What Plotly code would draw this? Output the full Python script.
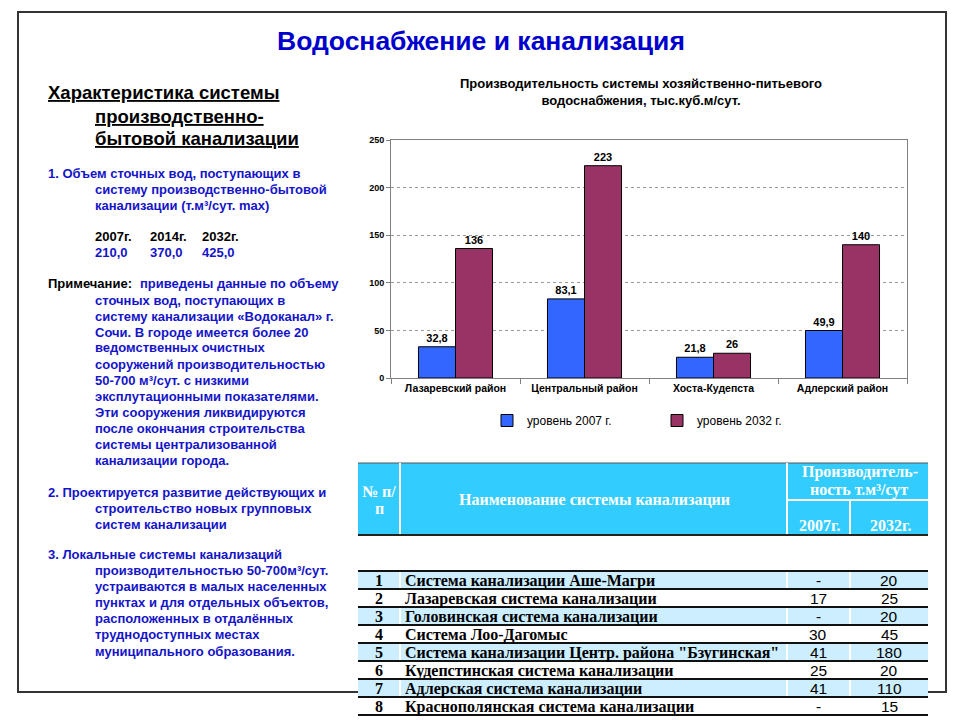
import plotly.graph_objects as go

# page body has an 8px margin; the figure is sized so the 960x720 window shows it whole
OFF = 8
W, H = 960 - OFF, 720 - OFF

# ---------------- data ----------------
categories = ["Лазаревский район", "Центральный район", "Хоста-Кудепста", "Адлерский район"]
level_2007 = [32.8, 83.1, 21.8, 49.9]
level_2032 = [136, 223, 26, 140]
series_names = ["уровень 2007 г.", "уровень 2032 г."]
y_ticks = [0, 50, 100, 150, 200, 250]

left_years = ["2007г.", "2014г.", "2032г."]
left_volumes = ["210,0", "370,0", "425,0"]

table_nums = ["1", "2", "3", "4", "5", "6", "7", "8"]
table_names = [
    "Система канализации Аше-Магри",
    "Лазаревская система канализации",
    "Головинская система канализации",
    "Система Лоо-Дагомыс",
    "Система канализации Центр. района \"Бзугинская\"",
    "Кудепстинская система канализации",
    "Адлерская система канализации",
    "Краснополянская система канализации",
]
table_2007 = ["-", "17", "-", "30", "41", "25", "41", "-"]
table_2032 = ["20", "25", "20", "45", "180", "20", "110", "15"]

# ---------------- helpers ----------------
def px(x):
    return (x - OFF) / W

def py(y):
    return 1 - (y - OFF) / H

SANS = "Arial, Liberation Sans, sans-serif"
SERIF = "Times New Roman, Liberation Serif, serif"
BLUE_TXT = "#1414c8"

fig = go.Figure()

for vals, name, color in [(level_2007, series_names[0], "#3366ff"),
                          (level_2032, series_names[1], "#993366")]:
    fig.add_trace(go.Bar(
        x=categories, y=vals, name=name,
        marker=dict(color=color, line=dict(color="#000000", width=1)),
        texttemplate="%{y}", textposition="outside",
        textfont=dict(family=SANS, size=11, color="#000000", weight="bold"),
        cliponaxis=False,
    ))

shapes = []
annotations = []

# slide frame
shapes.append(dict(type="rect", xref="paper", yref="paper",
                   x0=px(18), x1=px(946), y0=py(692), y1=py(12),
                   line=dict(color="#333333", width=2), fillcolor="rgba(0,0,0,0)"))

# main title
annotations.append(dict(text="<b>Водоснабжение и канализация</b>", x=px(481), y=py(41),
                        xref="paper", yref="paper", showarrow=False, xanchor="center", yanchor="middle",
                        font=dict(family=SANS, size=26.5, color="#0000cc")))

def left_line(text, x, y, size=13, color=BLUE_TXT):
    annotations.append(dict(text=text, x=px(x - 2), y=py(y), xref="paper", yref="paper",
                            showarrow=False, xanchor="left", yanchor="middle",
                            font=dict(family=SANS, size=size, color=color)))

left_line("<b><u>Характеристика системы</u></b>", 48, 93, 18.5, "#000000")
left_line("<b><u>производственно-</u></b>", 95, 116, 18.5, "#000000")
left_line("<b><u>бытовой канализации</u></b>", 95, 138, 18.5, "#000000")

left_line("<b>1. Объем сточных вод, поступающих в</b>", 48, 173)
left_line("<b>систему производственно-бытовой</b>", 95, 189)
left_line("<b>канализации (т.м³/сут. max)</b>", 95, 205)
for i, (yr, vol) in enumerate(zip(left_years, left_volumes)):
    xx = [95, 150, 202][i]
    left_line(f"<b>{yr}</b>", xx, 236, 13, "#000000")
    left_line(f"<b>{vol}</b>", xx, 252)

left_line("<b>Примечание:</b>", 48, 284, 13, "#000000")
left_line("<b>приведены данные по объему</b>", 140, 284)
note_lines = [
    "сточных вод, поступающих в",
    "систему канализации «Водоканал» г.",
    "Сочи. В городе имеется более 20",
    "ведомственных очистных",
    "сооружений производительностью",
    "50-700 м³/сут. с низкими",
    "эксплутационными показателями.",
    "Эти сооружения ликвидируются",
    "после окончания строительства",
    "системы централизованной",
    "канализации города.",
]
for i, t in enumerate(note_lines):
    left_line(f"<b>{t}</b>", 95, 300 + 16 * i)

left_line("<b>2. Проектируется развитие действующих и</b>", 48, 492)
left_line("<b>строительство новых групповых</b>", 95, 508)
left_line("<b>систем канализации</b>", 95, 524)

left_line("<b>3. Локальные системы канализаций</b>", 48, 554)
p3 = [
    "производительностью 50-700м³/сут.",
    "устраиваются в малых населенных",
    "пунктах и для отдельных объектов,",
    "расположенных в отдалённых",
    "труднодоступных местах",
    "муниципального образования.",
]
for i, t in enumerate(p3):
    left_line(f"<b>{t}</b>", 95, 570 + 16.2 * i)

# ---------------- table ----------------
CYAN = "#33ccff"
LIGHT = "#cceeff"
TX0, TX1 = 358, 928
col_edges = [358, 400, 787, 850, 928]
HY0, HY1, HMID = 463, 535, 500

shapes.append(dict(type="rect", xref="paper", yref="paper",
                   x0=px(TX0), x1=px(TX1), y0=py(HY1), y1=py(HY0),
                   line=dict(width=0), fillcolor=CYAN))
shapes.append(dict(type="line", xref="paper", yref="paper", x0=px(TX0), x1=px(TX1),
                   y0=py(HY0), y1=py(HY0), line=dict(color="#555555", width=1)))
for xe in [400, 787]:
    shapes.append(dict(type="line", xref="paper", yref="paper", x0=px(xe), x1=px(xe),
                       y0=py(HY0), y1=py(HY1), line=dict(color="#ffffff", width=2)))
shapes.append(dict(type="line", xref="paper", yref="paper", x0=px(787), x1=px(TX1),
                   y0=py(HMID), y1=py(HMID), line=dict(color="#ffffff", width=2)))
shapes.append(dict(type="line", xref="paper", yref="paper", x0=px(850), x1=px(850),
                   y0=py(HMID), y1=py(HY1), line=dict(color="#ffffff", width=2)))
shapes.append(dict(type="line", xref="paper", yref="paper", x0=px(TX0), x1=px(TX1),
                   y0=py(HY1), y1=py(HY1), line=dict(color="#222222", width=2)))

def cell_text(text, x, y, size, color, family, anchor="center"):
    annotations.append(dict(text=text, x=px(x), y=py(y), xref="paper", yref="paper",
                            showarrow=False, xanchor=anchor, yanchor="middle",
                            font=dict(family=family, size=size, color=color)))

cell_text("<b>№ п/</b>", 379, 491, 16, "#ffffff", SERIF)
cell_text("<b>п</b>", 379, 508, 16, "#ffffff", SERIF)
cell_text("<b>Наименование системы канализации</b>", 594, 499, 16, "#ffffff", SERIF)
cell_text("<b>Производитель-</b>", 860, 472, 16, "#ffffff", SERIF)
cell_text("<b>ность т.м³/сут</b>", 859, 490, 16, "#ffffff", SERIF)
cell_text("<b>2007г.</b>", 819, 525, 16, "#ffffff", SERIF)
cell_text("<b>2032г.</b>", 890, 525, 16, "#ffffff", SERIF)

RY0, RH = 571, 18
n_rows = len(table_nums)
for i in range(n_rows):
    y0 = RY0 + RH * i
    shapes.append(dict(type="rect", xref="paper", yref="paper",
                       x0=px(TX0), x1=px(TX1), y0=py(y0 + RH), y1=py(y0),
                       line=dict(width=0), fillcolor=LIGHT if i % 2 == 0 else "#ffffff"))
for xe in col_edges[1:-1]:
    shapes.append(dict(type="line", xref="paper", yref="paper", x0=px(xe), x1=px(xe),
                       y0=py(RY0), y1=py(RY0 + RH * n_rows), line=dict(color="#ffffff", width=2)))
for i in range(n_rows + 1):
    yy = RY0 + RH * i
    shapes.append(dict(type="line", xref="paper", yref="paper", x0=px(TX0), x1=px(TX1),
                       y0=py(yy), y1=py(yy), line=dict(color="#111111", width=2)))

for i in range(n_rows):
    yc = RY0 + RH * i + RH / 2 + 0.5
    cell_text(f"<b>{table_nums[i]}</b>", 379, yc, 16, "#000000", SERIF)
    cell_text(f"<b>{table_names[i]}</b>", 403, yc, 16, "#000000", SERIF, anchor="left")
    cell_text(table_2007[i], 818, yc, 15.5, "#000000", SANS)
    cell_text(table_2032[i], 889, yc, 15.5, "#000000", SANS)

fig.update_layout(
    width=W, height=H,
    margin=dict(l=0, r=0, t=0, b=0, autoexpand=False),
    paper_bgcolor="#ffffff", plot_bgcolor="#ffffff",
    separators=", ",
    barmode="group", bargap=0.426, bargroupgap=0,
    title=dict(text="<b>Производительность системы хозяйственно-питьевого<br>водоснабжения, тыс.куб.м/сут.</b>",
               x=px(641), xanchor="center", y=py(88), yanchor="middle",
               font=dict(family=SANS, size=13, color="#000000")),
    xaxis=dict(domain=[px(391), px(907)], showline=True, linecolor="#808080", linewidth=1,
               mirror=True, ticks="outside", tickson="boundaries", ticklen=5, tickcolor="#808080",
               tickfont=dict(family=SANS, size=10.5, color="#000000", weight="bold"),
               showgrid=False),
    yaxis=dict(domain=[py(378), py(140)], range=[0, 250], tickvals=y_ticks,
               showline=True, linecolor="#808080", linewidth=1, mirror=True,
               ticks="outside", ticklen=4, tickcolor="#808080",
               showgrid=True, gridcolor="#9a9a9a", griddash="dot", gridwidth=1,
               zeroline=False,
               tickfont=dict(family=SANS, size=9, color="#000000", weight="bold")),
    legend=dict(orientation="h", x=px(487), xanchor="left", y=py(406), yanchor="top",
                font=dict(family=SANS, size=12, color="#000000"),
                entrywidth=125, entrywidthmode="pixels", itemwidth=30,
                bgcolor="rgba(0,0,0,0)"),
    shapes=shapes,
    annotations=annotations,
)

fig.write_html("out.html")
